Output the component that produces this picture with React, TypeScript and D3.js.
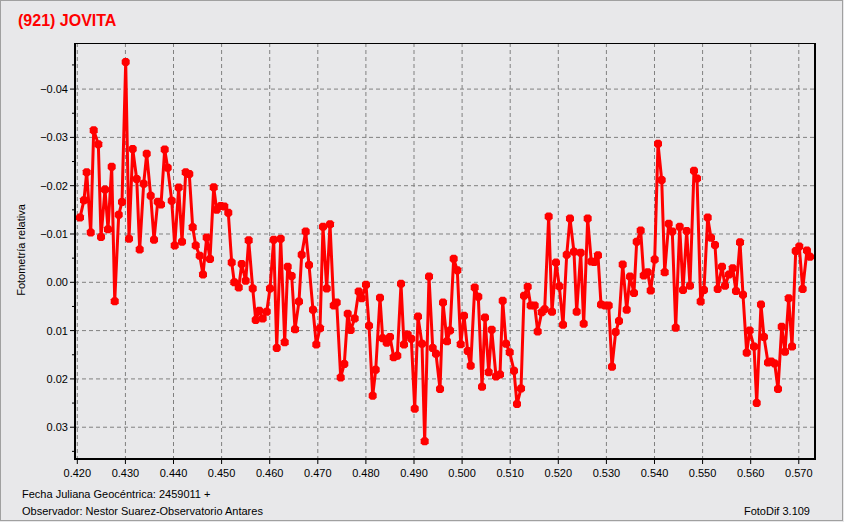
import React from "react";
import * as d3 from "d3";

// Julian date fraction (2459011 +) and relative photometry
const jd: number[] = [
  0.42056, 0.42139, 0.42195, 0.42279, 0.42341, 0.42437, 0.42493, 0.42576, 0.42638, 0.42715,
  0.42778, 0.42861, 0.42929, 0.43006, 0.43075, 0.43152, 0.43235, 0.43297, 0.43380, 0.43443,
  0.43526, 0.43595, 0.43672, 0.43740, 0.43817, 0.43879, 0.43963, 0.44025, 0.44108, 0.44177,
  0.44254, 0.44328, 0.44399, 0.44462, 0.44545, 0.44613, 0.44690, 0.44759, 0.44836, 0.44898,
  0.44981, 0.45056, 0.45139, 0.45210, 0.45264, 0.45356, 0.45418, 0.45501, 0.45563, 0.45647,
  0.45709, 0.45784, 0.45854, 0.45938, 0.46006, 0.46083, 0.46146, 0.46229, 0.46312, 0.46374,
  0.46457, 0.46526, 0.46609, 0.46665, 0.46748, 0.46817, 0.46900, 0.46969, 0.47046, 0.47108,
  0.47185, 0.47254, 0.47331, 0.47393, 0.47476, 0.47551, 0.47622, 0.47684, 0.47767, 0.47850,
  0.47913, 0.48002, 0.48065, 0.48141, 0.48204, 0.48293, 0.48349, 0.48432, 0.48501, 0.48578,
  0.48653, 0.48730, 0.48792, 0.48869, 0.48944, 0.49015, 0.49083, 0.49166, 0.49222, 0.49312,
  0.49389, 0.49457, 0.49541, 0.49603, 0.49686, 0.49749, 0.49825, 0.49900, 0.49971, 0.50040,
  0.50116, 0.50179, 0.50262, 0.50337, 0.50414, 0.50476, 0.50553, 0.50615, 0.50705, 0.50788,
  0.50844, 0.50913, 0.50990, 0.51079, 0.51141, 0.51225, 0.51287, 0.51364, 0.51426, 0.51509,
  0.51572, 0.51655, 0.51717, 0.51800, 0.51869, 0.51952, 0.52021, 0.52098, 0.52175, 0.52243,
  0.52326, 0.52382, 0.52466, 0.52528, 0.52611, 0.52686, 0.52748, 0.52825, 0.52888, 0.52971,
  0.53048, 0.53116, 0.53193, 0.53262, 0.53339, 0.53422, 0.53491, 0.53574, 0.53630, 0.53713,
  0.53776, 0.53859, 0.53921, 0.54004, 0.54073, 0.54150, 0.54212, 0.54295, 0.54370, 0.54441,
  0.54524, 0.54593, 0.54669, 0.54738, 0.54821, 0.54884, 0.54960, 0.55029, 0.55106, 0.55175,
  0.55258, 0.55314, 0.55403, 0.55466, 0.55549, 0.55626, 0.55694, 0.55778, 0.55840, 0.55917,
  0.55979, 0.56069, 0.56125, 0.56214, 0.56276, 0.56360, 0.56428, 0.56499, 0.56568, 0.56645,
  0.56713, 0.56790, 0.56859, 0.56936, 0.57010, 0.57081, 0.57170, 0.57233,
];

const mag: number[] = [
  -0.0134, -0.0170, -0.0228, -0.0103, -0.0315, -0.0286, -0.0094, -0.0192, -0.0110, -0.0239,
  0.0039, -0.0140, -0.0166, -0.0456, -0.0090, -0.0276, -0.0214, -0.0068, -0.0204, -0.0266,
  -0.0179, -0.0088, -0.0167, -0.0161, -0.0275, -0.0237, -0.0169, -0.0076, -0.0196, -0.0084,
  -0.0228, -0.0224, -0.0114, -0.0076, -0.0055, -0.0016, -0.0093, -0.0048, -0.0197, -0.0150,
  -0.0158, -0.0157, -0.0144, -0.0041, 0.0000, 0.0011, -0.0038, -0.0003, -0.0087, 0.0013,
  0.0078, 0.0059, 0.0075, 0.0061, 0.0013, -0.0088, 0.0136, -0.0090, 0.0124, -0.0032,
  -0.0013, 0.0097, 0.0040, -0.0057, -0.0105, -0.0036, 0.0057, 0.0129, 0.0095, -0.0115,
  0.0013, -0.0120, 0.0048, 0.0042, 0.0197, 0.0169, 0.0065, 0.0099, 0.0075, 0.0019,
  0.0033, 0.0005, 0.0090, 0.0235, 0.0181, 0.0032, 0.0116, 0.0125, 0.0113, 0.0155,
  0.0152, 0.0003, 0.0129, 0.0108, 0.0117, 0.0262, 0.0071, 0.0127, 0.0329, -0.0012,
  0.0136, 0.0148, 0.0221, 0.0042, 0.0122, 0.0100, -0.0049, -0.0025, 0.0128, 0.0069,
  0.0142, 0.0173, 0.0011, 0.0030, 0.0216, 0.0073, 0.0186, 0.0098, 0.0195, 0.0191,
  0.0038, 0.0127, 0.0145, 0.0183, 0.0252, 0.0220, 0.0028, 0.0009, 0.0048, 0.0048,
  0.0102, 0.0062, 0.0056, -0.0136, 0.0061, -0.0041, 0.0008, 0.0088, -0.0057, -0.0132,
  -0.0063, 0.0061, -0.0061, 0.0086, -0.0132, -0.0043, -0.0042, -0.0056, 0.0046, 0.0048,
  0.0048, 0.0175, 0.0103, 0.0080, -0.0037, 0.0057, -0.0012, 0.0022, -0.0084, -0.0107,
  -0.0014, -0.0021, 0.0017, -0.0047, -0.0287, -0.0212, -0.0021, -0.0121, -0.0105, 0.0094,
  -0.0115, 0.0016, -0.0106, 0.0007, -0.0231, -0.0215, 0.0040, 0.0016, -0.0134, -0.0092,
  -0.0077, 0.0014, -0.0032, 0.0007, -0.0016, -0.0029, 0.0018, -0.0083, 0.0026, 0.0146,
  0.0100, 0.0133, 0.0250, 0.0046, 0.0113, 0.0166, 0.0164, 0.0168, 0.0221, 0.0092,
  0.0144, 0.0033, 0.0133, -0.0065, -0.0074, 0.0014, -0.0066, -0.0053,
];

const xTicks: number[] = [0.42, 0.43, 0.44, 0.45, 0.46, 0.47, 0.48, 0.49, 0.5, 0.51, 0.52, 0.53, 0.54, 0.55, 0.56, 0.57];
const yTicks: number[] = [-0.04, -0.03, -0.02, -0.01, 0.0, 0.01, 0.02, 0.03];
const yMinorTicks: number[] = [-0.045, -0.035, -0.025, -0.015, -0.005, 0.005, 0.015, 0.025, 0.035];

const title = "(921) JOVITA";
const yLabel = "Fotometría relativa";
const footer1 = "Fecha Juliana Geocéntrica: 2459011 +";
const footer2 = "Observador: Nestor Suarez-Observatorio Antares";
const version = "FotoDif 3.109";

const W = 844;
const H = 522;
const L = 75, R = 815, T = 43, B = 459;

// octagonal "rounded cross" marker shape (relative to point)
const MARK = "M-2,-4L2,-4L4,-2L4,2L2,4L-2,4L-4,2L-4,-2Z";

export default function App() {
  const x = d3.scaleLinear().domain([0.41952, 0.57337]).range([L, R]);
  const y = d3.scaleLinear().domain([-0.04954, 0.03658]).range([T, B]);
  const pts = jd.map((d, i) => [d, mag[i]] as [number, number]);
  const line = d3.line<[number, number]>().x((d) => x(d[0])).y((d) => y(d[1]));
  const font = "Liberation Sans, Arial, sans-serif";

  return (
    <div style={{ position: "fixed", left: 0, top: 0 }}>
      <svg width={W} height={H} style={{ display: "block" }}>
        <rect x={0} y={0} width={W} height={H} fill="#e8e8ea" />
        <rect x={0.5} y={0.5} width={W - 2} height={H - 2} fill="none" stroke="#a0a0a0" />
        <text x={18} y={26} fill="#ff0000" fontFamily={font} fontWeight="bold" fontSize={16}>
          {title}
        </text>

        {/* grid */}
        {xTicks.map((t) => (
          <line key={"gx" + t} x1={x(t)} x2={x(t)} y1={T} y2={B} stroke="#808080" strokeDasharray="4,3" strokeWidth={1} />
        ))}
        {yTicks.map((t) => (
          <line key={"gy" + t} x1={L} x2={R} y1={y(t)} y2={y(t)} stroke="#808080" strokeDasharray="4,3" strokeWidth={1} />
        ))}

        {/* frame */}
        <line x1={L} x2={R} y1={T + 0.5} y2={T + 0.5} stroke="#000" strokeWidth={1} />
        <line x1={R} x2={R} y1={T} y2={B} stroke="#000" strokeWidth={2} />
        <line x1={L} x2={L} y1={T} y2={B + 1} stroke="#000" strokeWidth={2} />
        <line x1={L - 1} x2={R + 1} y1={B} y2={B} stroke="#000" strokeWidth={2} />

        {/* y ticks */}
        {yTicks.map((t) => (
          <g key={"ty" + t}>
            <line x1={L - 5} x2={L} y1={y(t)} y2={y(t)} stroke="#000" />
            <text x={68} y={y(t) + 4} textAnchor="end" fontFamily={font} fontSize={11} fill="#000">
              {t === 0 ? "0.00" : d3.format(".2f")(t)}
            </text>
          </g>
        ))}
        {yMinorTicks.map((t) => (
          <line key={"my" + t} x1={L - 3} x2={L} y1={y(t)} y2={y(t)} stroke="#000" />
        ))}

        {/* x ticks */}
        {xTicks.map((t) => (
          <g key={"tx" + t}>
            <line x1={x(t)} x2={x(t)} y1={B} y2={B + 5} stroke="#000" />
            <text x={x(t)} y={477} textAnchor="middle" fontFamily={font} fontSize={11} fill="#000">
              {d3.format(".3f")(t)}
            </text>
          </g>
        ))}

        <text
          transform={`translate(25,250) rotate(-90)`}
          textAnchor="middle"
          fontFamily={font}
          fontSize={11}
          fill="#000"
        >
          {yLabel}
        </text>

        {/* data */}
        <path d={line(pts) || ""} fill="none" stroke="#ff0000" strokeWidth={3} strokeLinejoin="round" />
        {pts.map((p, i) => (
          <path key={i} d={MARK} transform={`translate(${x(p[0])},${y(p[1])})`} fill="#ff0000" />
        ))}

        <text x={22} y={498} fontFamily={font} fontSize={11} fill="#000">
          {footer1}
        </text>
        <text x={22} y={515} fontFamily={font} fontSize={11} fill="#000">
          {footer2}
        </text>
        <text x={810} y={515} textAnchor="end" fontFamily={font} fontSize={11} fill="#000">
          {version}
        </text>
      </svg>
    </div>
  );
}
